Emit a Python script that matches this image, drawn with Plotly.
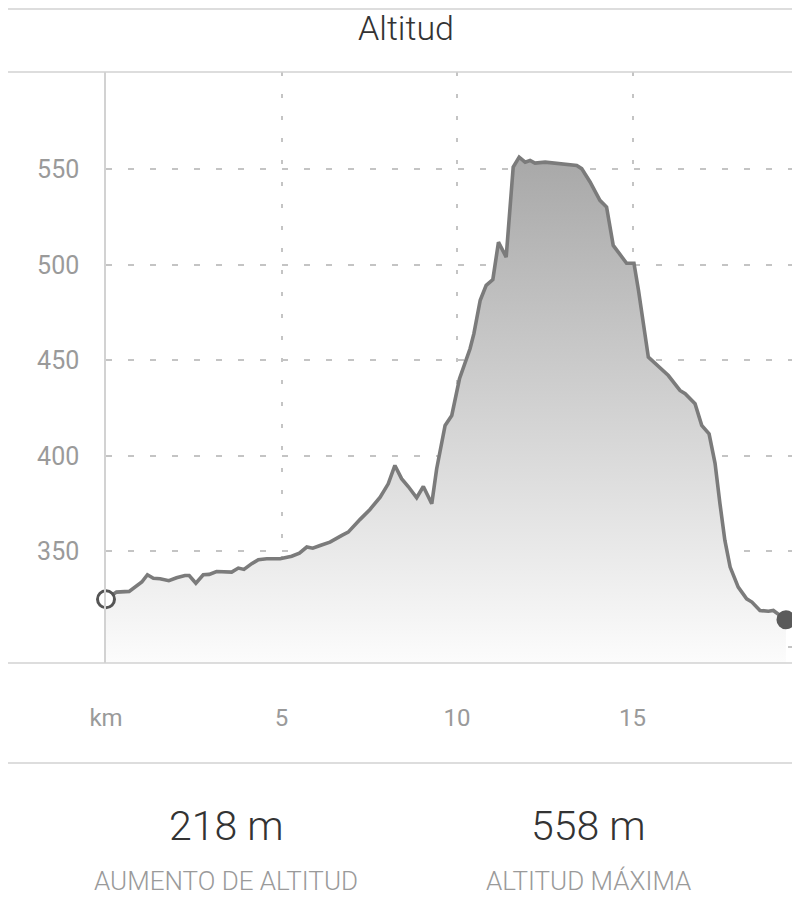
import plotly.graph_objects as go

# ---- data ----
km = [0.00, 0.30, 0.66, 0.83, 1.02, 1.18, 1.35, 1.54, 1.79, 2.01, 2.25, 2.37, 2.56, 2.77,
      2.94, 3.15, 3.58, 3.77, 3.93, 4.15, 4.34, 4.58, 4.96, 5.29, 5.51, 5.72, 5.89, 6.10,
      6.38, 6.72, 6.90, 7.24, 7.52, 7.81, 8.04, 8.23, 8.42, 8.61, 8.85, 9.04, 9.28, 9.42,
      9.66, 9.85, 10.07, 10.37, 10.48, 10.66, 10.83, 11.02, 11.18, 11.40, 11.60, 11.77,
      11.94, 12.08, 12.22, 12.51, 12.93, 13.41, 13.55, 13.79, 14.07, 14.26, 14.45, 14.83,
      15.04, 15.17, 15.45, 15.74, 16.02, 16.35, 16.50, 16.78, 16.97, 17.18, 17.35, 17.49,
      17.63, 17.78, 18.01, 18.25, 18.40, 18.63, 18.87, 19.01, 19.37]
altitude = [325, 328.7, 329.1, 331.7, 334.0, 337.8, 336.0, 335.7, 334.7, 336.2, 337.4, 337.4,
            333.4, 337.8, 338.0, 339.5, 339.2, 341.3, 340.6, 343.6, 345.7, 346.2, 346.2, 347.5,
            349.1, 352.3, 351.7, 353.1, 354.9, 358.4, 360.1, 366.8, 372.0, 378.4, 385.4, 395.0,
            388.1, 384.0, 378.1, 384.0, 375.0, 393.3, 416.0, 421.2, 440.4, 456.1, 464.0, 481.5,
            489.3, 492.3, 511.9, 504.1, 551.2, 556.4, 553.8, 554.7, 553.3, 553.8, 553.0, 552.1,
            550.4, 543.4, 533.8, 530.3, 510.2, 500.9, 500.9, 486.6, 451.7, 446.5, 442.1, 434.3,
            432.6, 427.3, 416.0, 411.6, 396.1, 375.0, 355.8, 341.8, 331.3, 325.2, 323.5, 319.1,
            318.7, 319.1, 314.2]

x_ticks = [0, 5, 10, 15]
x_tick_labels = ["km", "5", "10", "15"]
y_ticks = [300, 350, 400, 450, 500, 550]
y_tick_labels = ["", "350", "400", "450", "500", "550"]

title_text = "Altitud"
stat_values = ["218 m", "558 m"]
stat_labels = ["AUMENTO DE ALTITUD", "ALTITUD MÁXIMA"]

# ---- layout constants (page adds an 8px body margin) ----
OFF = 8
W, H = 800 - OFF, 915 - OFF
L, R, T, B = 106 - OFF, 0, 72 - OFF, 915 - 663
PW, PH = W - L - R, H - T - B
Y_MIN, Y_MAX = 291.6, 601.0
X_MIN, X_MAX = 0, 19.77


def px_x(p):
    return (p - OFF - L) / PW


def px_y(p):
    return (T + PH - (p - OFF)) / PH


FONT = "Roboto, Liberation Sans, sans-serif"
GRID = "#c4c4c4"
SEP = "#d2d2d2"

fig = go.Figure()

fig.add_trace(go.Scatter(
    x=km, y=altitude, mode="lines",
    line=dict(color="#7b7b7b", width=3.6),
    fill="tozeroy",
    fillgradient=dict(type="vertical", start=Y_MIN, stop=max(altitude),
                      colorscale=[[0, "#fcfcfc"], [1, "#a8a8a8"]]),
    hoverinfo="skip", showlegend=False,
))
fig.add_trace(go.Scatter(
    x=[km[0]], y=[altitude[0]], mode="markers",
    marker=dict(size=17, color="white", line=dict(color="#555555", width=3)),
    showlegend=False, cliponaxis=False,
))
fig.add_trace(go.Scatter(
    x=[km[-1]], y=[altitude[-1]], mode="markers",
    marker=dict(size=19, color="#5a5a5a", line=dict(width=0)),
    showlegend=False, cliponaxis=False,
))

shapes = [
    dict(type="line", xref="paper", yref="paper", x0=px_x(OFF), x1=1, y0=px_y(OFF + 1), y1=px_y(OFF + 1),
         line=dict(color=SEP, width=1.5)),
    dict(type="line", xref="paper", yref="paper", x0=px_x(OFF), x1=1, y0=1, y1=1,
         line=dict(color=SEP, width=1.5)),
    dict(type="line", xref="paper", yref="paper", x0=px_x(OFF), x1=1, y0=0, y1=0,
         line=dict(color=SEP, width=1.5)),
    dict(type="line", xref="paper", yref="paper", x0=px_x(OFF), x1=1, y0=px_y(763), y1=px_y(763),
         line=dict(color=SEP, width=1.5)),
]

annotations = [
    dict(text=title_text, xref="paper", yref="paper", x=px_x(406), y=px_y(28),
         xanchor="center", yanchor="middle", showarrow=False,
         font=dict(family=FONT, size=34, color="#333333", weight=300)),
]
for i, cx in enumerate([226, 588]):
    annotations.append(dict(text=stat_values[i], xref="paper", yref="paper",
                            x=px_x(cx), y=px_y(826), xanchor="center", yanchor="middle",
                            showarrow=False,
                            font=dict(family=FONT, size=41, color="#333333", weight=300)))
    annotations.append(dict(text=stat_labels[i], xref="paper", yref="paper",
                            x=px_x(cx), y=px_y(881), xanchor="center", yanchor="middle",
                            showarrow=False,
                            font=dict(family=FONT, size=26, color="#9a9a9a", weight=300)))

fig.update_layout(
    width=W, height=H,
    margin=dict(l=L, r=R, t=T, b=B, pad=0),
    paper_bgcolor="white", plot_bgcolor="white",
    shapes=shapes, annotations=annotations,
    xaxis=dict(range=[X_MIN, X_MAX], tickvals=x_ticks, ticktext=x_tick_labels,
               showgrid=True, gridcolor=GRID, gridwidth=1.5, griddash="4px,18px",
               zeroline=False, showline=False, ticks="", ticklabelstandoff=38,
               tickfont=dict(family=FONT, size=24, color="#9a9a9a")),
    yaxis=dict(range=[Y_MIN, Y_MAX], tickvals=y_ticks, ticktext=y_tick_labels,
               showgrid=True, gridcolor=GRID, gridwidth=1.5, griddash="6px,16px",
               zeroline=False, showline=True, linecolor=SEP, linewidth=1.5,
               ticks="", ticklabelstandoff=20,
               tickfont=dict(family=FONT, size=25, color="#9a9a9a")),
)

fig.write_html("out.html")
